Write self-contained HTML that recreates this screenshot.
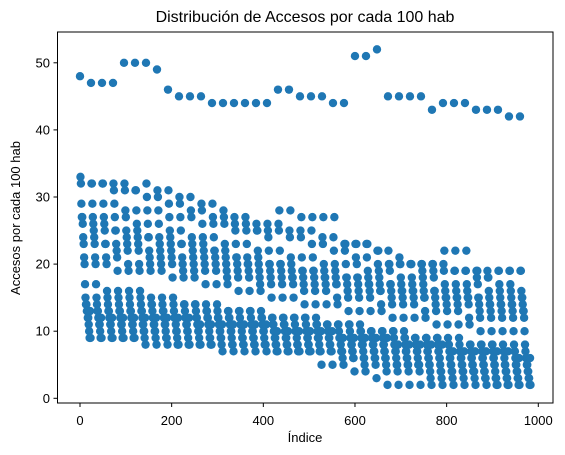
<!DOCTYPE html>
<html><head><meta charset="utf-8"><style>
body{margin:0;background:#fff;}
svg{display:block;font-family:"Liberation Sans","DejaVu Sans",sans-serif;}
</style></head><body>
<svg id="chart" width="565" height="455">
<rect x="0" y="0" width="565" height="455" fill="#fff"/>
<text x="305" y="22" text-anchor="middle" font-size="16" fill="#000">Distribución de Accesos por cada 100 hab</text>
<g id="plot"></g>
<rect x="57.5" y="32" width="495.5" height="371" fill="none" stroke="#000" stroke-width="1"/>
<g id="xticks"></g>
<g id="yticks"></g>
<text x="305" y="442" text-anchor="middle" font-size="13">Índice</text>
<text transform="translate(20,218) rotate(-90)" text-anchor="middle" font-size="13">Accesos por cada 100 hab</text>
</svg>
<script>
const groupSize = 24;
const xTicks = [0,200,400,600,800,1000];
const yTicks = [0,10,20,30,40,50];
const pA=[48,47,47,47,50,50,50,49,46,45,45,45,44,44,44,44,44,44,46,46,45,45,45,44,44,51,51,52,45,45,45,45,43,44,44,44,43,43,43,42,42];
const pB=[33,32,32,32,32,31,32,31,31,30,30,29,29,28,27,27,26,26,26,25,25,25,24,24,23,23,23,22,22,21,20,20,20,20,19,19,19,19,19,19,19];
const pC=[32,32,32,31,31,31,30,30,29,29,28,28,27,27,26,26,25,25,25,24,24,23,23,22,22,21,21,20,20,20,20,20,20,19,19,19,18,18,19,19,19];
const pD=[29,29,29,29,28,28,28,28,27,27,27,26,26,26,25,25,25,24,28,28,27,27,27,27,23,23,23,22,20,20,20,19,19,22,22,22,19,18,17,17,16];
const pE=[27,27,27,27,27,26,26,26,25,25,24,24,24,23,23,23,22,22,22,21,21,21,20,20,20,20,19,19,19,18,18,18,18,17,17,17,17,16,16,16,15];
const pF=[27,26,26,25,25,25,24,24,24,23,23,23,22,22,21,21,21,20,20,20,19,19,19,19,18,18,18,18,17,17,17,17,16,16,16,16,15,15,15,15,15];
const pG=[26,25,25,25,24,24,24,23,23,23,22,22,22,21,21,20,20,20,20,19,19,19,18,18,18,18,17,17,17,16,16,16,16,15,15,15,15,14,14,14,14];
const pH=[24,24,23,23,23,23,22,22,22,21,21,21,21,20,20,20,19,19,19,18,18,18,18,17,17,17,17,16,16,16,16,15,15,15,15,15,14,14,14,14,13];
const pI=[23,23,23,22,22,22,21,21,21,20,20,20,20,19,19,19,18,18,18,18,17,17,17,17,16,16,16,16,15,15,15,15,14,14,14,14,13,13,13,13,13];
const pJ=[21,21,21,21,20,20,20,20,20,19,19,19,19,18,18,18,17,17,17,17,16,16,16,15,15,15,15,14,14,14,14,13,13,13,13,12,12,12,12,12,12];
const pK=[20,20,20,19,19,19,19,19,18,18,18,17,17,17,16,16,16,15,15,15,14,14,14,14,13,13,13,13,12,12,12,12,11,11,11,11,10,10,10,10,10];
const pL=[17,17,16,16,16,16,15,15,15,14,14,14,14,13,13,13,13,12,12,12,12,12,11,11,11,11,10,10,10,10,9,9,9,9,9,8,8,8,8,8,8];
const pM=[15,15,15,15,15,15,14,14,14,14,14,13,13,13,13,13,12,12,12,12,12,11,11,11,11,10,10,10,10,9,9,9,9,8,8,8,8,8,7,7,7];
const pN=[14,14,14,14,14,14,14,13,13,13,13,13,12,12,12,12,12,11,11,11,11,11,10,10,10,10,9,9,9,9,8,8,8,8,7,7,7,7,7,7,6];
const pO=[14,13,13,13,13,13,13,13,12,12,12,12,12,12,11,11,11,11,11,10,10,10,10,9,9,9,9,8,8,8,8,7,7,7,7,6,6,6,6,6,6];
const pP=[13,13,13,13,13,13,12,12,12,12,12,12,11,11,11,11,11,10,10,10,10,9,9,9,9,8,8,8,8,7,7,7,7,6,6,6,6,6,5,5,5];
const pQ=[13,12,12,12,12,12,12,12,12,11,11,11,11,11,11,10,10,10,10,10,9,9,9,9,8,8,8,7,7,7,7,6,6,6,6,5,5,5,5,5,5];
const pR=[12,12,12,12,12,11,11,11,11,11,11,11,10,10,10,10,10,9,9,9,9,9,8,8,8,8,7,7,7,6,6,6,6,5,5,5,5,5,4,4,4];
const pS=[12,11,11,11,11,11,11,11,10,10,10,10,10,10,9,9,9,9,9,8,8,8,8,7,7,7,7,6,6,6,5,5,5,5,5,4,4,4,4,4,4];
const pT=[11,11,11,11,11,10,10,10,10,10,10,9,9,9,9,9,8,8,8,8,8,7,7,7,7,6,6,6,5,5,5,5,4,4,4,4,4,3,3,3,3];
const pU=[10,10,10,10,10,10,10,9,9,9,9,9,9,8,8,8,8,8,8,7,7,7,7,7,6,6,6,5,5,5,5,4,4,4,4,4,3,3,3,3,3];
const pV=[9,9,9,9,9,9,9,9,8,8,8,8,8,8,8,8,8,7,7,7,7,7,7,6,6,5,5,4,4,4,4,3,3,3,3,3,3,2,2,2,2];
const pW=[13,12,12,12,12,12,12,12,12,12,11,11,11,11,11,11,11,10,10,10,10,10,10,9,9,9,9,9,8,8,8,8,8,7,7,7,7,7,7,6,6];
const pX=[9,9,9,9,9,8,8,8,8,8,8,8,7,7,7,7,7,7,7,7,7,5,5,5,4,4,3,2,2,2,2,2,2,2,2,2,2,2,2,2,2];
const series=[pA,pB,pC,pD,pE,pF,pG,pH,pI,pJ,pK,pL,pM,pN,pO,pP,pQ,pR,pS,pT,pU,pV,pW,pX];

const NS="http://www.w3.org/2000/svg";
function xScale(v){return 80+v*0.4583;}
function yScale(v){return 398.3-v*6.71;}
const plot=document.getElementById('plot');
series.forEach((arr,p)=>{
  arr.forEach((val,q)=>{
    const c=document.createElementNS(NS,'circle');
    c.setAttribute('cx',xScale(q*groupSize+p));
    c.setAttribute('cy',yScale(val));
    c.setAttribute('r',4.2);
    c.setAttribute('fill','#1f77b4');
    
    
    plot.appendChild(c);
  });
});
const xg=document.getElementById('xticks');
xTicks.forEach(t=>{
  const x=xScale(t);
  const l=document.createElementNS(NS,'line');
  l.setAttribute('x1',x);l.setAttribute('x2',x);l.setAttribute('y1',403);l.setAttribute('y2',407);
  l.setAttribute('stroke','#000');
  
  
  xg.appendChild(l);
  const tx=document.createElementNS(NS,'text');
  tx.setAttribute('x',x);tx.setAttribute('y',425);tx.setAttribute('text-anchor','middle');tx.setAttribute('font-size','13');
  tx.textContent=t;
  
  
  xg.appendChild(tx);
});
const yg=document.getElementById('yticks');
yTicks.forEach(t=>{
  const y=yScale(t);
  const l=document.createElementNS(NS,'line');
  l.setAttribute('x1',53.5);l.setAttribute('x2',57.5);l.setAttribute('y1',y);l.setAttribute('y2',y);
  l.setAttribute('stroke','#000');
  
  
  yg.appendChild(l);
  const tx=document.createElementNS(NS,'text');
  tx.setAttribute('x',50);tx.setAttribute('y',y+4.5);tx.setAttribute('text-anchor','end');tx.setAttribute('font-size','13');
  tx.textContent=t;
  
  
  yg.appendChild(tx);
});
</script>
</body></html>
